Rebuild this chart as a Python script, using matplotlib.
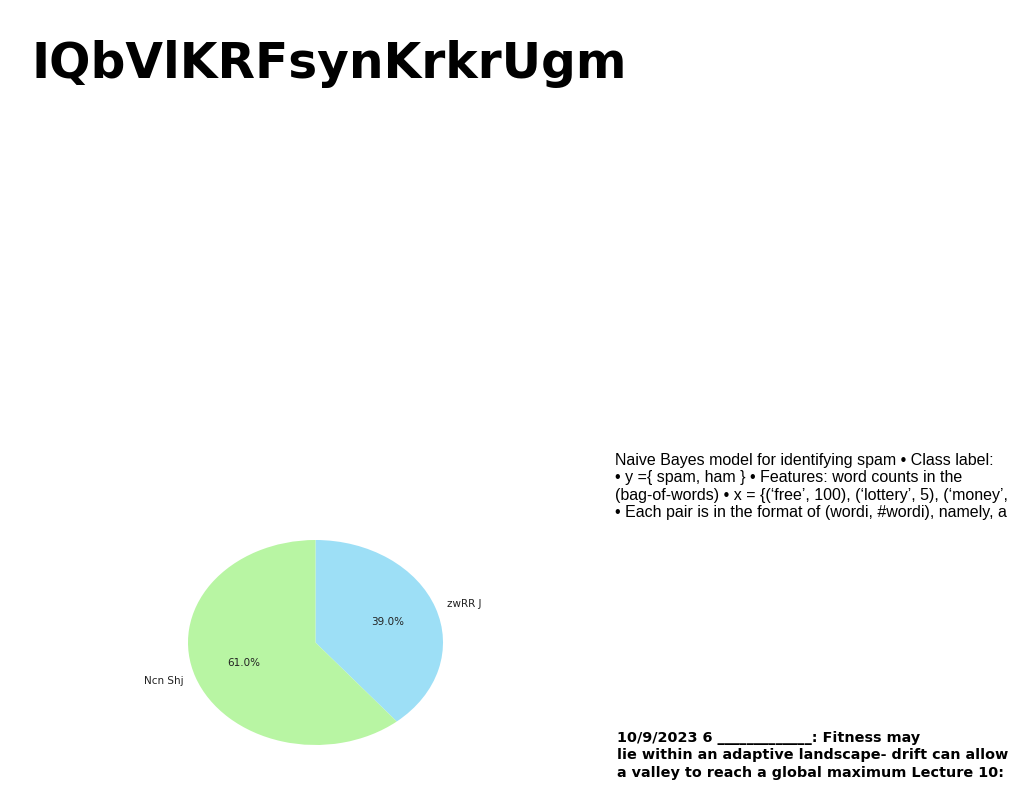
import matplotlib
matplotlib.use("Agg")
import matplotlib.pyplot as plt

title = "IQbVlKRFsynKrkrUgm"
labels = ["zwRR J", "Ncn Shj"]
shares = [39.0, 61.0]
colors = ["#9ddff6", "#b8f5a3"]

body_lines = [
    "Naive Bayes model for identifying spam \u2022 Class label:",
    "\u2022 y ={ spam, ham } \u2022 Features: word counts in the",
    "(bag-of-words) \u2022 x = {(\u2018free\u2019, 100), (\u2018lottery\u2019, 5), (\u2018money\u2019,",
    "\u2022 Each pair is in the format of (wordi, #wordi), namely, a",
]
foot_lines = [
    "10/9/2023 6 _____________: Fitness may",
    "lie within an adaptive landscape- drift can allow",
    "a valley to reach a global maximum Lecture 10:",
]

W, H = 1024, 788
fig = plt.figure(figsize=(W / 100, H / 100), dpi=100)

fig.text(31 / W, 1 - 64 / H, title, fontsize=35, fontweight="bold",
         family="DejaVu Sans", va="center", ha="left")

# pie stretched into an ellipse
ax = fig.add_axes([188 / W, 43 / H, 255 / W, 205 / H])
ax.pie(shares, labels=labels, colors=colors, autopct="%1.1f%%",
       startangle=90, counterclock=False,
       textprops={"fontsize": 7.5, "color": "#222222"})
ax.set_aspect("auto")
ax.set_xlim(-1, 1)
ax.set_ylim(-1, 1)

fig.text(615 / W, 1 - 453 / H, "\n".join(body_lines), fontsize=11.5,
         family="Liberation Sans", va="top", ha="left", linespacing=1.19)

fig.text(617 / W, 1 - 731 / H, "\n".join(foot_lines), fontsize=10.4,
         fontweight="bold", family="DejaVu Sans", va="top", ha="left",
         linespacing=1.3)

fig.savefig("out.png", dpi=100)
